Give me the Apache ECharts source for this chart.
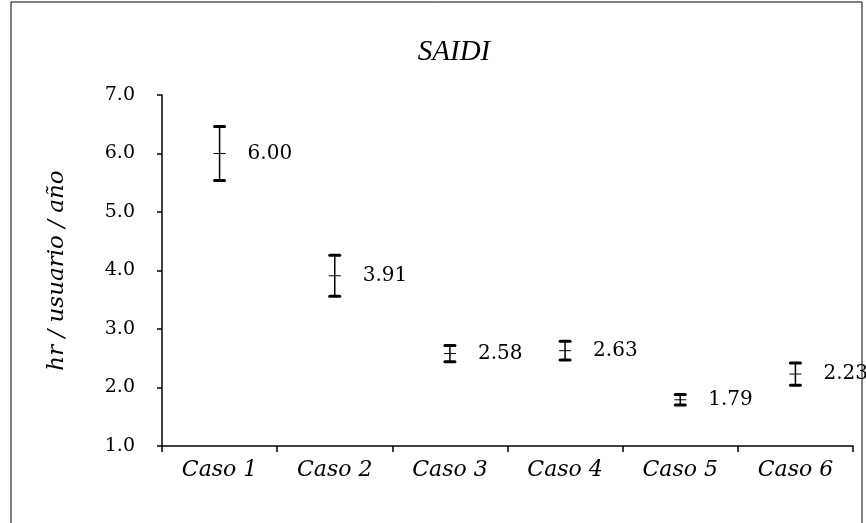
<!DOCTYPE html>
<html lang="es">
<head>
<meta charset="utf-8" />
<title>SAIDI</title>
<script src="https://cdn.jsdelivr.net/npm/echarts@6/dist/echarts.min.js"></script>
<style>
  html, body { margin: 0; padding: 0; background: #fff; }
  #chart { width: 866px; height: 523px; }
</style>
</head>
<body>
<div id="chart"></div>
<script>
// casos evaluados
const categories = ['Caso 1', 'Caso 2', 'Caso 3', 'Caso 4', 'Caso 5', 'Caso 6'];
// valor medio SAIDI (hr/usuario/año)
const saidiMean = [6.00, 3.91, 2.58, 2.63, 1.79, 2.23];
// semi-ancho de la barra de error (estimado del gráfico)
const saidiErr = [0.46, 0.35, 0.14, 0.16, 0.09, 0.19];
const yTicks = [1, 2, 3, 4, 5, 6, 7];

const chart = echarts.init(document.getElementById('chart'));

const seriesData = saidiMean.map(function (v, i) {
  return [i, v, v - saidiErr[i], v + saidiErr[i]];
});

function renderErrorBar(params, api) {
  const idx = api.value(0);
  const mid = api.coord([idx, api.value(1)]);
  const lo = api.coord([idx, api.value(2)]);
  const hi = api.coord([idx, api.value(3)]);
  const capW = 6;
  const style = { stroke: '#000', lineWidth: 1.5 };
  const capStyle = { stroke: '#000', lineWidth: 3, lineCap: 'round' };
  return {
    type: 'group',
    children: [
      { type: 'line', shape: { x1: mid[0], y1: hi[1], x2: mid[0], y2: lo[1] }, style: style },
      { type: 'line', shape: { x1: mid[0] - capW + 1, y1: hi[1], x2: mid[0] + capW - 1, y2: hi[1] }, style: capStyle },
      { type: 'line', shape: { x1: mid[0] - capW + 1, y1: lo[1], x2: mid[0] + capW - 1, y2: lo[1] }, style: capStyle },
      { type: 'line', shape: { x1: mid[0] - capW, y1: mid[1], x2: mid[0] + capW, y2: mid[1] }, style: { stroke: '#000', lineWidth: 1 } },
      {
        type: 'text',
        x: mid[0] + 28,
        y: mid[1],
        style: {
          text: api.value(1).toFixed(2),
          fill: '#000',
          font: '20px "DejaVu Serif"',
          textAlign: 'left',
          textVerticalAlign: 'middle'
        }
      }
    ]
  };
}

const option = {
  backgroundColor: '#fff',
  animation: false,
  title: {
    text: 'SAIDI',
    left: 449,
    top: 33,
    textAlign: 'center',
    textStyle: {
      fontFamily: 'Liberation Serif',
      fontStyle: 'italic',
      fontWeight: 'normal',
      fontSize: 29,
      color: '#000'
    }
  },
  graphic: [{
    type: 'rect',
    shape: { x: 11, y: 2, width: 851, height: 530 },
    style: { fill: 'none', stroke: '#000', lineWidth: 1 },
    silent: true
  }],
  grid: { left: 162, right: 13, top: 95, bottom: 77 },
  xAxis: {
    type: 'category',
    data: categories,
    boundaryGap: true,
    axisLine: { lineStyle: { color: '#000', width: 1.5 } },
    axisTick: { show: true, length: 6, lineStyle: { color: '#000', width: 1.5 } },
    axisLabel: {
      color: '#000',
      fontFamily: 'DejaVu Serif',
      fontStyle: 'italic',
      fontSize: 22,
      margin: 13
    }
  },
  yAxis: {
    type: 'value',
    min: yTicks[0],
    max: yTicks[yTicks.length - 1],
    interval: 1,
    name: 'hr / usuario / año',
    nameLocation: 'middle',
    nameGap: 93,
    nameTextStyle: {
      color: '#000',
      fontFamily: 'DejaVu Serif',
      fontStyle: 'italic',
      fontSize: 23
    },
    axisLine: { show: true, lineStyle: { color: '#000', width: 1.5 } },
    axisTick: { show: true, length: 5, lineStyle: { color: '#000', width: 1.5 } },
    splitLine: { show: false },
    axisLabel: {
      color: '#000',
      fontFamily: 'DejaVu Serif',
      fontSize: 19,
      margin: 27,
      formatter: function (v) { return v.toFixed(1); }
    }
  },
  series: [{
    type: 'custom',
    renderItem: renderErrorBar,
    encode: { x: 0, y: [1, 2, 3] },
    data: seriesData,
    clip: false
  }]
};

chart.setOption(option);
</script>
</body>
</html>
